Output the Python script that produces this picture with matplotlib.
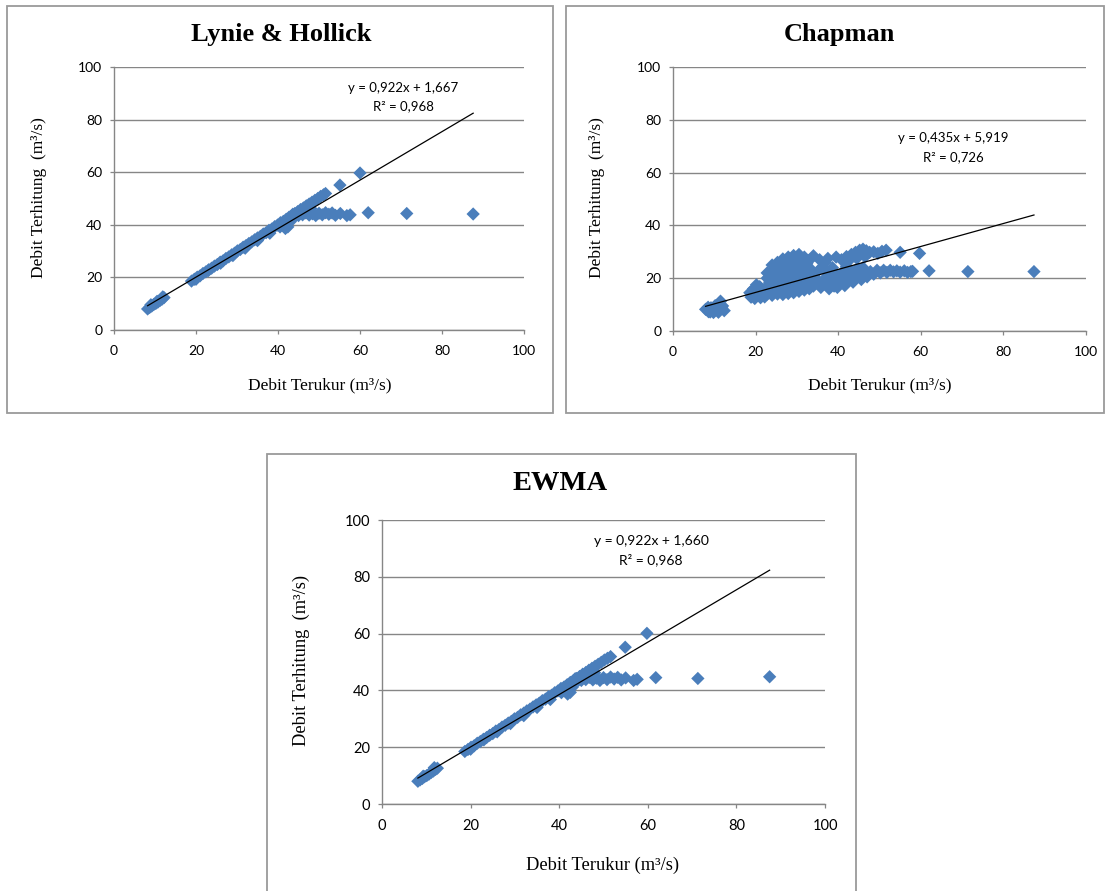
import matplotlib
matplotlib.use("Agg")
import matplotlib.pyplot as plt
from matplotlib.patches import Rectangle


lh_x = [
    8.2, 8.7, 9.2, 9.7, 10.2, 10.7, 11.2, 11.7, 12.2, 9.0, 10.5, 11.9,
    18.9, 19.6, 20.3, 21.0, 21.7, 22.4, 23.1, 23.8, 24.5, 25.2, 25.9, 26.6,
    27.3, 28.0, 28.7, 29.4, 30.1, 30.8, 31.5, 32.2, 32.9, 33.6, 34.3, 35.0,
    35.7, 36.4, 37.1, 37.8, 38.5, 39.2, 39.9, 40.6, 41.3, 42.0, 42.7, 43.4,
    44.1, 44.8, 45.5, 46.2, 46.9, 47.6, 48.3, 49.0, 49.7, 50.4, 51.1, 51.6,
    20.0, 23.0, 26.0, 29.0, 32.0, 35.0, 38.0, 40.5, 41.8, 42.4, 43.0, 45.0, 46.5, 48.0,
    43.6, 44.4, 45.2, 46.0, 46.8, 47.6, 48.4, 49.2, 50.0, 50.8, 51.6, 52.4,
    53.2, 54.0, 55.2, 56.8, 57.6,
    55.1, 60.0, 62.0, 71.4, 87.6,
]
lh_y = [
    8.0, 8.6, 9.1, 9.7, 10.1, 10.6, 11.2, 11.7, 12.3, 9.6, 10.9, 12.6,
    18.6, 19.3, 20.1, 20.6, 21.5, 22.1, 22.9, 23.5, 24.3, 24.9, 25.8, 26.3,
    27.2, 27.8, 28.6, 29.2, 30.1, 30.6, 31.5, 32.1, 32.9, 33.5, 34.3, 35.0,
    35.6, 36.5, 37.0, 37.9, 38.4, 39.3, 39.9, 40.8, 41.3, 42.1, 42.9, 43.5,
    44.3, 45.0, 45.8, 46.4, 47.2, 47.9, 48.6, 49.3, 50.0, 50.8, 51.4, 51.9,
    19.3, 22.6, 25.4, 28.3, 31.1, 34.0, 36.8, 39.2, 38.6, 39.2, 41.2, 43.5, 45.0, 46.2,
    44.0, 43.6, 44.3, 43.8, 44.5, 43.7, 44.2, 43.5, 44.4, 43.8, 44.6, 44.0,
    44.5, 43.6, 44.3, 43.5, 43.8,
    55.1, 59.7, 44.6, 44.3, 44.1,
]

ch_x = [
    7.9, 8.6, 9.2, 9.8, 10.4, 11.0, 11.5, 11.8, 12.4, 10.2, 9.0, 11.0, 8.5, 12.0,
    18.6, 18.9, 19.5, 19.8, 20.4, 21.0, 21.2, 21.8, 22.2, 20.2,
    22.8, 22.8, 22.8, 22.8,
    24.0, 24.0, 24.0, 24.0, 24.0,
    25.3, 25.3, 25.3, 25.3, 25.3,
    26.6, 26.6, 26.6, 26.6, 26.6, 26.6,
    27.9, 27.9, 27.9, 27.9, 27.9, 27.9,
    29.2, 29.2, 29.2, 29.2, 29.2, 29.2,
    30.5, 30.5, 30.5, 30.5, 30.5, 30.5,
    31.8, 31.8, 31.8, 31.8, 31.8,
    33.0, 33.0, 33.0, 33.0, 33.0,
    23.4, 23.4, 23.4, 24.7, 24.7, 24.7, 24.7, 26.0, 26.0, 26.0, 26.0,
    27.3, 27.3, 27.3, 27.3, 28.6, 28.6, 28.6, 28.6, 29.9, 29.9, 29.9, 29.9,
    31.2, 31.2, 31.2, 31.2, 32.4, 32.4, 32.4, 32.4,
    34.0, 35.5, 36.8, 37.5, 39.5, 40.8, 42.0, 43.2, 44.2, 45.2, 46.0, 46.8,
    47.6, 48.6, 49.6, 50.6, 51.6, 55.0, 59.7, 42.5, 44.5, 46.5,
    34.0, 34.5, 35.3, 35.8, 36.5, 37.2, 37.8, 38.6, 39.2, 39.8, 40.4, 41.0,
    41.6, 42.4, 43.0, 43.6, 44.4, 45.0, 45.6, 46.4, 47.0, 47.8, 48.6, 49.4,
    50.2, 51.0, 51.8, 52.6, 53.4, 54.2, 55.0, 56.0, 56.8, 57.6, 58.0,
    35.0, 36.8, 38.0, 40.0, 41.5, 43.0, 44.0, 46.0, 36.2, 38.6, 42.0, 39.0,
    62.0, 71.4, 87.4,
]
ch_y = [
    8.2, 7.3, 8.8, 7.0, 8.4, 7.1, 11.3, 8.7, 7.7, 9.6, 7.2, 9.9, 9.0, 9.5,
    14.5, 12.8, 16.0, 12.3, 14.3, 16.8, 12.6, 14.6, 12.9, 17.5,
    14.0, 17.0, 20.0, 22.0,
    13.5, 16.5, 19.5, 22.5, 25.0,
    14.0, 17.0, 20.0, 23.0, 26.0,
    13.8, 16.8, 19.8, 22.8, 25.5, 27.3,
    14.2, 17.2, 20.2, 23.2, 26.0, 28.0,
    14.5, 17.5, 20.5, 23.5, 26.5, 28.6,
    15.0, 18.0, 21.0, 24.0, 27.0, 29.0,
    15.5, 18.5, 21.5, 24.5, 28.0,
    16.0, 19.0, 22.0, 24.0, 26.8,
    15.5, 18.5, 21.5, 15.3, 18.3, 21.3, 24.0, 15.5, 18.5, 21.5, 24.5,
    15.6, 18.6, 21.6, 24.6, 15.8, 18.8, 21.8, 24.8, 16.2, 19.2, 22.2, 25.2,
    16.6, 19.6, 22.6, 25.8, 17.0, 20.0, 23.0, 25.5,
    28.5, 27.0, 26.0, 27.5, 28.0, 27.0, 28.2, 29.0, 29.8, 30.6, 31.0, 30.4,
    29.8, 30.0, 29.4, 30.2, 30.6, 29.8, 29.4, 26.5, 27.5, 28.2,
    17.0, 20.0, 23.0, 16.5, 19.5, 22.5, 16.0, 18.8, 21.5, 16.5, 19.5, 22.3,
    17.2, 20.0, 22.8, 18.5, 21.0, 23.5, 19.5, 22.0, 20.5, 22.5, 21.5, 23.0,
    22.0, 23.0, 22.2, 23.0, 22.4, 22.8, 22.3, 22.8, 22.2, 22.5, 22.6,
    18.2, 17.8, 20.6, 18.2, 20.6, 19.6, 22.8, 24.0, 24.3, 24.0, 24.5, 17.0,
    22.8, 22.5, 22.5,
]

ew_x = [
    8.1, 8.6, 9.1, 9.6, 10.1, 10.6, 11.1, 11.6, 12.1, 12.5, 9.3, 11.8,
    18.7, 19.4, 20.1, 20.8, 21.5, 22.2, 22.9, 23.6, 24.3, 25.0, 25.7, 26.4,
    27.1, 27.8, 28.5, 29.2, 29.9, 30.6, 31.3, 32.0, 32.7, 33.4, 34.1, 34.8,
    35.5, 36.2, 36.9, 37.6, 38.3, 39.0, 39.7, 40.4, 41.1, 41.8, 42.5, 43.2,
    43.9, 44.6, 45.3, 46.0, 46.7, 47.4, 48.1, 48.8, 49.5, 50.2, 50.9, 51.6,
    20.0, 23.0, 26.0, 29.0, 32.0, 35.0, 38.0, 40.5, 41.9, 42.5, 43.0, 45.0, 46.5, 48.0,
    43.6, 44.4, 45.2, 46.0, 46.8, 47.6, 48.4, 49.2, 50.0, 50.8, 51.6, 52.4,
    53.2, 54.0, 55.0, 56.8, 57.6,
    54.9, 59.8, 61.8, 71.3, 87.5,
]
ew_y = [
    8.0, 8.5, 9.0, 9.6, 10.0, 10.5, 11.1, 11.6, 12.2, 12.6, 9.8, 12.8,
    18.5, 19.2, 20.0, 20.5, 21.4, 22.0, 22.8, 23.4, 24.2, 24.8, 25.7, 26.2,
    27.1, 27.7, 28.5, 29.1, 30.0, 30.5, 31.4, 32.0, 32.8, 33.4, 34.2, 34.9,
    35.5, 36.4, 36.9, 37.8, 38.3, 39.2, 39.8, 40.7, 41.2, 42.0, 42.8, 43.4,
    44.2, 44.9, 45.7, 46.3, 47.1, 47.8, 48.5, 49.2, 49.9, 50.7, 51.3, 51.9,
    19.3, 22.6, 25.4, 28.3, 31.1, 34.0, 36.8, 39.2, 38.7, 39.3, 41.2, 43.5, 45.0, 46.2,
    44.1, 43.6, 44.4, 43.8, 44.6, 43.7, 44.3, 43.5, 44.5, 43.8, 44.7, 44.0,
    44.6, 43.7, 44.4, 43.5, 43.9,
    55.2, 60.1, 44.5, 44.2, 44.8,
]

# Trendline coefficients and labels as printed on each panel.
titles = ["Lynie & Hollick", "Chapman", "EWMA"]
slopes = [0.922, 0.435, 0.922]
intercepts = [1.667, 5.919, 1.660]
eq_labels = ["y = 0,922x + 1,667", "y = 0,435x + 5,919", "y = 0,922x + 1,660"]
r2_labels = ["R² = 0,968", "R² = 0,726", "R² = 0,968"]
ticks = [0, 20, 40, 60, 80, 100]

W, H = 1111, 891
BLUE = "#4a7ebb"
GRID = "#868686"
SERIF = "Liberation Serif"
SANS = "Lato"

# Pixel layout of each panel: frame box, plot area, text anchors and font sizes.
layout = [
    dict(box=(7, 6, 553, 413), area=(114, 67, 524, 330), title=(281, 34), xlab=(320, 385),
         ylab=(39, 198), eq=(403, 88), r2=(403, 106), fs=(19, 12.5, 10, 9.5)),
    dict(box=(566, 6, 1104, 413), area=(673, 67, 1086, 331), title=(839, 34), xlab=(880, 385),
         ylab=(597, 198), eq=(953, 138), r2=(953, 157), fs=(19, 12.5, 10, 9.5)),
    dict(box=(267, 454, 856, 900), area=(382, 520, 825, 804), title=(560, 483), xlab=(603, 865),
         ylab=(301, 660), eq=(651, 541), r2=(651, 560), fs=(20.5, 13.3, 10.5, 10)),
]
data = [(lh_x, lh_y), (ch_x, ch_y), (ew_x, ew_y)]

fig = plt.figure(figsize=(W / 100, H / 100), dpi=100)
fig.patch.set_facecolor("white")


def ftext(pos, s, **kw):
    fig.text(pos[0] / W, 1 - pos[1] / H, s, ha="center", va="center", **kw)


for i, lay in enumerate(layout):
    xs, ys = data[i]
    title_fs, lab_fs, tick_fs, eq_fs = lay["fs"]

    l, t, r, b = lay["box"]
    fig.add_artist(Rectangle((l / W, 1 - b / H), (r - l) / W, (b - t) / H, transform=fig.transFigure,
                             fill=False, edgecolor="#9a9a9a", linewidth=1.3))

    l, t, r, b = lay["area"]
    ax = fig.add_axes([l / W, 1 - b / H, (r - l) / W, (b - t) / H])
    ax.set_xlim(0, 100)
    ax.set_ylim(0, 100)
    ax.set_xticks(ticks)
    ax.set_yticks(ticks)
    ax.set_facecolor("none")
    for side in ["top", "right"]:
        ax.spines[side].set_visible(False)
    for side in ["left", "bottom"]:
        ax.spines[side].set_color(GRID)
        ax.spines[side].set_linewidth(1.0)
    ax.yaxis.grid(True, color=GRID, linewidth=1.0)
    ax.set_axisbelow(True)
    ax.tick_params(axis="both", direction="out", length=3, width=0.9, color=GRID, labelsize=tick_fs)
    ax.tick_params(axis="x", pad=8)
    ax.tick_params(axis="y", pad=5.5)
    for lbl in ax.get_xticklabels() + ax.get_yticklabels():
        lbl.set_fontfamily(SANS)

    ax.scatter(xs, ys, marker="D", s=46, color=BLUE, edgecolors="none", zorder=3, clip_on=False)
    x0, x1 = min(xs), max(xs)
    ax.plot([x0, x1], [slopes[i] * x0 + intercepts[i], slopes[i] * x1 + intercepts[i]],
            color="black", linewidth=0.9, zorder=4)

    ftext(lay["title"], titles[i], family=SERIF, fontsize=title_fs, fontweight="bold")
    ftext(lay["xlab"], "Debit Terukur (m³/s)", family=SERIF, fontsize=lab_fs)
    ftext(lay["ylab"], "Debit Terhitung  (m³/s)", family=SERIF, fontsize=lab_fs, rotation=90)
    ftext(lay["eq"], eq_labels[i], family=SANS, fontsize=eq_fs)
    ftext(lay["r2"], r2_labels[i], family=SANS, fontsize=eq_fs)

fig.savefig("out.png", dpi=100)
